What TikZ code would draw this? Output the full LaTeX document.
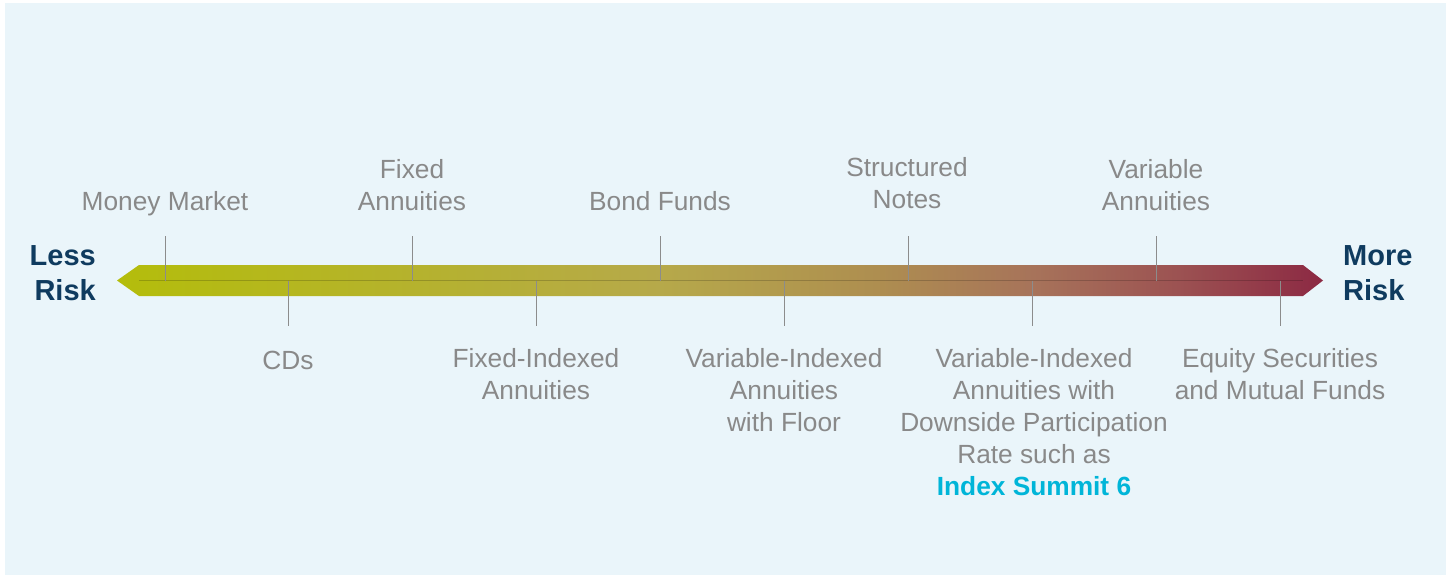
\documentclass[tikz,border=0pt]{standalone}
\usepackage{fontspec}
\setmainfont{Liberation Sans}
\usetikzlibrary{calc}

\definecolor{pagebg}{HTML}{EAF5FA}
\definecolor{labelgray}{HTML}{898989}
\definecolor{tickgray}{HTML}{8C8C8C}
\definecolor{navy}{HTML}{0F3B5F}
\definecolor{brandcyan}{HTML}{00B5D8}
\definecolor{riskLow}{HTML}{B4BD0B}
\definecolor{riskA}{HTML}{B6A94A}
\definecolor{riskB}{HTML}{AE8E50}
\definecolor{riskC}{HTML}{A7735A}
\definecolor{riskD}{HTML}{9C5252}
\definecolor{riskHigh}{HTML}{8C2943}

% colour ramp along the risk axis (path occupies 25bp..75bp)
\pgfdeclarehorizontalshading{riskscale}{100bp}{%
  color(0bp)=(riskLow); color(25bp)=(riskLow);
  color(47.5bp)=(riskA); color(56.5bp)=(riskB);
  color(63bp)=(riskC); color(69bp)=(riskD);
  color(75bp)=(riskHigh); color(100bp)=(riskHigh)}

\tikzset{
  label/.style={text=labelgray, align=center, inner sep=0pt,
    font=\fontsize{26.3}{32}\selectfont,
    execute at begin node=\strut, execute at end node=\strut},
  uplabel/.style={label, anchor=south},
  downlabel/.style={label, anchor=north},
  endlabel/.style={text=navy, inner sep=0pt,
    font=\bfseries\fontsize{29}{35}\selectfont,
    execute at begin node=\strut, execute at end node=\strut},
  tickline/.style={draw=tickgray, line width=1pt},
  axisline/.style={draw=black, draw opacity=0.18, line width=1.2pt}
}

\begin{document}
\begin{tikzpicture}[x=1pt, y=-1pt]
  % canvas and panel
  \fill[white] (0,0) rectangle (1451,575);
  \fill[pagebg] (5,3) rectangle (1446,575);
  \useasboundingbox (0,0) rectangle (1451,575);

  % the risk arrow
  \shade[shading=riskscale]
    (117,280.5) -- (139,265) -- (1303,265) -- (1323,280.5)
    -- (1303,296) -- (139,296) -- cycle;
  \coordinate (axisL) at (139,280.5);
  \coordinate (axisR) at (1303,280.5);
  \draw[axisline] (axisL) -- (axisR);

  % ends of the scale
  \node[endlabel, anchor=north east, align=right] (less) at (96,245) {Less\\Risk};
  \node[endlabel, anchor=north west, align=left] (more) at (1343,245) {More\\Risk};

  % ticks above the axis
  \foreach \n/\x in {mm/165, fa/412, bf/660, sn/908, va/1156}{
    \coordinate (t\n) at (\x,236);
    \coordinate (b\n) at (\x,280.5);
    \draw[tickline] (t\n) -- (b\n);
  }
  % ticks below the axis
  \foreach \n/\x in {cd/288, fia/536, vif/784, vid/1032, eq/1280}{
    \coordinate (t\n) at (\x,280.5);
    \coordinate (b\n) at (\x,326);
    \draw[tickline] (t\n) -- (b\n);
  }

  % labels above
  \node[uplabel] (lmm) at (165,220) {Money Market};
  \node[uplabel] (lfa) at (412,220) {Fixed\\Annuities};
  \node[uplabel] (lbf) at (660,220) {Bond Funds};
  \node[uplabel] (lsn) at (907,218) {Structured\\Notes};
  \node[uplabel] (lva) at (1156,220) {Variable\\Annuities};

  % labels below
  \node[downlabel] (lcd) at (288,347) {CDs};
  \node[downlabel] (lfia) at (536,348) {Fixed-Indexed\\Annuities};
  \node[downlabel] (lvif) at (784,348) {Variable-Indexed\\Annuities\\with Floor};
  \node[downlabel] (lvid) at (1034,348) {Variable-Indexed\\Annuities with\\Downside Participation\\Rate such as\\{\color{brandcyan}\bfseries Index Summit 6}};
  \node[downlabel] (leq) at (1280,348) {Equity Securities\\and Mutual Funds};
\end{tikzpicture}
\end{document}
